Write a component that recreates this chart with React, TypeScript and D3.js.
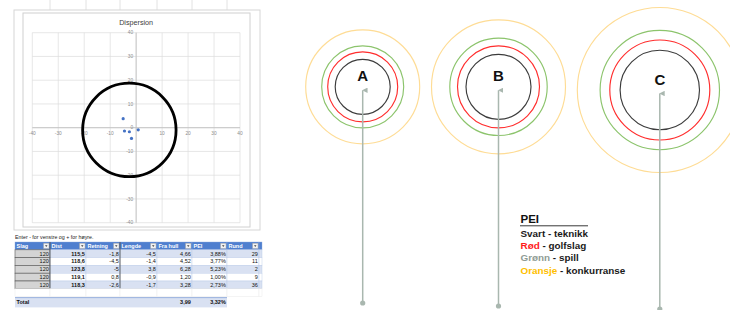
import React, { useEffect, useRef } from 'react';
import * as d3 from 'd3';

// shot table (Retning = x, Lengde = y)
const slag = [120, 120, 120, 120, 120];
const dist = [115.5, 118.6, 123.8, 119.1, 118.3];
const retning = [-1.8, -4.5, -5, 0.8, -2.6];
const lengde = [-4.5, -1.4, 3.8, -0.9, -1.7];
const fraHull = [4.66, 4.52, 6.28, 1.2, 3.28];
const pei = [3.88, 3.77, 5.23, 1.0, 2.73];
const rund = [29, 11, 2, 9, 36];
const totalFraHull = 3.99;
const totalPei = 3.32;
const headers = ['Slag', 'Dist', 'Retning', 'Lengde', 'Fra hull', 'PEI', 'Rund', ''];
const axisTicks = [-40, -30, -20, -10, 0, 10, 20, 30, 40];
const dispersionRadius = 18;

// PEI targets
const targetNames = ['A', 'B', 'C'];
const ringSvart = [27.5, 32.5, 39.7];
const ringRod = [35, 41, 50];
const ringGronn = [41, 48.7, 59.7];
const ringOransje = [57, 67, 82.5];
const legendWords = ['Svart', 'Rød', 'Grønn', 'Oransje'];
const legendRest = [' - teknikk', ' - golfslag', ' - spill', ' - konkurranse'];

const W = 730;
const H = 310;
const ringColors = ['#3c3c3c', '#ff2d2d', '#8cc46c', '#fedc95'];
const legendColors = ['#1a1a1a', '#ff1a1a', '#8f9c95', '#ffc000'];
const font = '"Liberation Sans", Arial, sans-serif';

const fmt = (v: number) => String(v).replace('.', ',');
const fmt2 = (v: number) => v.toFixed(2).replace('.', ',');

const App = () => {
    const svgRef = useRef<SVGSVGElement>(null);

    useEffect(() => {
        const svg = d3.select(svgRef.current);
        svg.selectAll('*').remove();

        // ---------- left: excel scatter ----------
        const left = svg.append('g');
        const colEdges = [15, 50, 86, 120, 157, 192, 227, 259, 262];

        // sheet gridlines
        left.append('g')
            .selectAll('line')
            .data(colEdges.slice(1, 7))
            .join('line')
            .attr('x1', d => d).attr('x2', d => d)
            .attr('y1', 0).attr('y2', 12)
            .attr('stroke', '#e2e2e2');

        left.append('rect')
            .attr('x', 14).attr('y', 10).attr('width', 246).attr('height', 220)
            .attr('fill', '#fff').attr('stroke', '#d6d6d6');
        left.append('rect')
            .attr('x', 23).attr('y', 13).attr('width', 227).attr('height', 214)
            .attr('fill', '#fff').attr('stroke', '#d0d0d0');

        const x = d3.scaleLinear().domain([-40, 40]).range([32.3, 240]);
        const y = d3.scaleLinear().domain([-40, 40]).range([222.7, 32.7]);

        left.append('text')
            .attr('x', x(0)).attr('y', 24.5)
            .attr('text-anchor', 'middle')
            .attr('font-family', font).attr('font-size', 7.2)
            .attr('fill', '#404040')
            .text('Dispersion');

        const grid = left.append('g').attr('stroke', '#dcdcdc').attr('stroke-width', 0.7);
        grid.selectAll('line.v')
            .data(axisTicks)
            .join('line')
            .attr('class', 'v')
            .attr('x1', d => x(d)).attr('x2', d => x(d))
            .attr('y1', y(40)).attr('y2', y(-40));
        grid.selectAll('line.h')
            .data(axisTicks)
            .join('line')
            .attr('class', 'h')
            .attr('y1', d => y(d)).attr('y2', d => y(d))
            .attr('x1', x(-40)).attr('x2', x(40));

        left.append('line')
            .attr('x1', x(0)).attr('x2', x(0)).attr('y1', y(40)).attr('y2', y(-40))
            .attr('stroke', '#bdbdbd').attr('stroke-width', 0.8);
        left.append('line')
            .attr('y1', y(0)).attr('y2', y(0)).attr('x1', x(-40)).attr('x2', x(40))
            .attr('stroke', '#bdbdbd').attr('stroke-width', 0.8);

        left.append('g')
            .selectAll('text')
            .data(axisTicks.filter(d => d !== 0))
            .join('text')
            .attr('x', d => x(d)).attr('y', y(0) + 7.5)
            .attr('text-anchor', 'middle')
            .attr('font-family', font).attr('font-size', 4.8)
            .attr('fill', '#8c8c8c')
            .text(d => d);
        left.append('g')
            .selectAll('text')
            .data(axisTicks)
            .join('text')
            .attr('x', x(0) - 3).attr('y', d => y(d) + 1.7)
            .attr('text-anchor', 'end')
            .attr('font-family', font).attr('font-size', 4.8)
            .attr('fill', '#8c8c8c')
            .text(d => d);

        const cx = d3.mean(retning) as number;
        const cy = d3.mean(lengde) as number;
        left.append('circle')
            .attr('cx', x(cx)).attr('cy', y(cy))
            .attr('r', x(dispersionRadius) - x(0))
            .attr('fill', 'none').attr('stroke', '#000').attr('stroke-width', 2.8);

        left.append('g')
            .selectAll('circle')
            .data(d3.range(retning.length))
            .join('circle')
            .attr('cx', i => x(retning[i]))
            .attr('cy', i => y(lengde[i]))
            .attr('r', 1.6)
            .attr('fill', '#4472c4');

        // ---------- table ----------
        left.append('text')
            .attr('x', 15).attr('y', 238.5)
            .attr('font-family', font).attr('font-size', 5.3)
            .attr('fill', '#222')
            .text('Enter - for venstre og + for høyre.');

        const rowTop = 242;
        const rowH = 7.8;
        const tbl = left.append('g').attr('font-family', font).attr('font-size', 5.5);

        // header
        headers.forEach((h, c) => {
            const x0 = colEdges[c];
            const x1 = colEdges[c + 1];
            tbl.append('rect')
                .attr('x', x0).attr('y', rowTop).attr('width', x1 - x0).attr('height', rowH)
                .attr('fill', '#4f7fcf').attr('stroke', '#8eaadb').attr('stroke-width', 0.4);
            if (h) {
                tbl.append('text')
                    .attr('x', x0 + 1.5).attr('y', rowTop + 5.6)
                    .attr('fill', '#fff').attr('font-weight', 'bold')
                    .text(h);
                tbl.append('rect')
                    .attr('x', x1 - 6.5).attr('y', rowTop + 1.2).attr('width', 5.5).attr('height', 5.4)
                    .attr('fill', '#f2f2f2').attr('stroke', '#9a9a9a').attr('stroke-width', 0.4);
                tbl.append('path')
                    .attr('d', `M${x1 - 5},${rowTop + 3.3}l2.5,0l-1.25,1.6z`)
                    .attr('fill', '#444');
            }
        });

        const rows = d3.range(slag.length).map(i => [
            String(slag[i]), fmt(dist[i]), fmt(retning[i]), fmt(lengde[i]),
            fmt2(fraHull[i]), fmt2(pei[i]) + '%', String(rund[i]), ''
        ]);
        rows.forEach((cells, r) => {
            const yTop = rowTop + rowH * (r + 1);
            cells.forEach((txt, c) => {
                const x0 = colEdges[c];
                const x1 = colEdges[c + 1];
                const fill = c === 0 ? '#d4d4d4' : r % 2 === 0 ? '#d9e1f2' : '#ffffff';
                tbl.append('rect')
                    .attr('x', x0).attr('y', yTop).attr('width', x1 - x0).attr('height', rowH)
                    .attr('fill', fill)
                    .attr('stroke', c === 0 ? '#555' : '#b4c6e7')
                    .attr('stroke-width', c === 0 ? 0.6 : 0.4);
                tbl.append('text')
                    .attr('x', x1 - 1.2).attr('y', yTop + 5.7)
                    .attr('text-anchor', 'end')
                    .attr('fill', '#111')
                    .attr('font-weight', c === 1 ? 'bold' : 'normal')
                    .text(txt);
            });
        });
        // darker column borders
        [colEdges[1], colEdges[3]].forEach(xe => {
            tbl.append('line')
                .attr('x1', xe).attr('x2', xe)
                .attr('y1', rowTop).attr('y2', rowTop + rowH * 6)
                .attr('stroke', '#444').attr('stroke-width', 0.8);
        });

        // blank row + total
        const blankTop = rowTop + rowH * 6;
        colEdges.slice(0, 8).forEach((x0, c) => {
            tbl.append('rect')
                .attr('x', x0).attr('y', blankTop).attr('width', colEdges[c + 1] - x0).attr('height', rowH)
                .attr('fill', '#fff').attr('stroke', '#e4e4e4').attr('stroke-width', 0.4);
        });
        const totTop = blankTop + rowH + 1;
        tbl.append('rect')
            .attr('x', colEdges[0]).attr('y', totTop)
            .attr('width', colEdges[6] - colEdges[0]).attr('height', rowH + 2)
            .attr('fill', '#d9e1f2');
        tbl.append('line')
            .attr('x1', colEdges[0]).attr('x2', colEdges[6])
            .attr('y1', totTop).attr('y2', totTop)
            .attr('stroke', '#4472c4').attr('stroke-width', 0.5);
        tbl.append('text')
            .attr('x', colEdges[0] + 1.5).attr('y', totTop + 6)
            .attr('font-weight', 'bold').attr('fill', '#111')
            .text('Total');
        tbl.append('text')
            .attr('x', colEdges[5] - 1.2).attr('y', totTop + 6)
            .attr('text-anchor', 'end').attr('font-weight', 'bold').attr('fill', '#111')
            .text(fmt2(totalFraHull));
        tbl.append('text')
            .attr('x', colEdges[6] - 1.2).attr('y', totTop + 6)
            .attr('text-anchor', 'end').attr('font-weight', 'bold').attr('fill', '#111')
            .text(fmt2(totalPei) + '%');

        // ---------- right: PEI targets ----------
        const right = svg.append('g');
        const r = d3.scaleLinear().domain([0, 1]).range([0, 1]);
        const startX = 305.7;
        const gap = 11.8;
        const centerY = [86.8, 86.8, 90];
        const bottomY = [303, 306, 309];

        let acc = startX;
        const targets = targetNames.map((name, i) => {
            const rings = [ringSvart[i], ringRod[i], ringGronn[i], ringOransje[i]];
            const outer = r(ringOransje[i]);
            const tx = acc + outer;
            acc += outer * 2 + gap;
            return { name, rings, tx, ty: centerY[i], by: bottomY[i] };
        });

        svg.append('defs').append('marker')
            .attr('id', 'arrowHead')
            .attr('viewBox', '0 0 10 10')
            .attr('refX', 5).attr('refY', 1)
            .attr('markerWidth', 3.6).attr('markerHeight', 3.6)
            .attr('orient', 'auto-start-reverse')
            .append('path')
            .attr('d', 'M0,10L5,0L10,10z')
            .attr('fill', '#a9b7af');

        const tg = right.selectAll('g.target')
            .data(targets)
            .join('g')
            .attr('class', 'target');

        tg.selectAll('circle.ring')
            .data(d => d.rings.map((rv, k) => ({ rv, k, tx: d.tx, ty: d.ty })))
            .join('circle')
            .attr('class', 'ring')
            .attr('cx', d => d.tx).attr('cy', d => d.ty)
            .attr('r', d => r(d.rv))
            .attr('fill', 'none')
            .attr('stroke', d => ringColors[d.k])
            .attr('stroke-width', 1.15);

        tg.append('text')
            .attr('x', d => d.tx).attr('y', d => d.ty - 5.5)
            .attr('text-anchor', 'middle')
            .attr('font-family', font).attr('font-weight', 'bold').attr('font-size', 15)
            .attr('fill', '#111')
            .text(d => d.name);

        tg.append('line')
            .attr('x1', d => d.tx).attr('x2', d => d.tx)
            .attr('y1', d => d.by).attr('y2', d => d.ty + 3.5)
            .attr('stroke', '#a9b7af').attr('stroke-width', 1.5)
            .attr('marker-end', 'url(#arrowHead)');
        tg.append('circle')
            .attr('cx', d => d.tx).attr('cy', d => d.by)
            .attr('r', 2.6)
            .attr('fill', '#a9b7af');

        // legend
        const lg = right.append('g').attr('font-family', font).attr('font-weight', 'bold');
        lg.append('text')
            .attr('x', 520.5).attr('y', 223)
            .attr('font-size', 11.5).attr('fill', '#111')
            .text('PEI');
        lg.append('line')
            .attr('x1', 520).attr('x2', 588)
            .attr('y1', 225.8).attr('y2', 225.8)
            .attr('stroke', '#222').attr('stroke-width', 0.9);
        legendWords.forEach((w, i) => {
            const t = lg.append('text')
                .attr('x', 520.5).attr('y', 237 + i * 12.2)
                .attr('font-size', 9.9);
            t.append('tspan').attr('fill', legendColors[i]).text(w);
            t.append('tspan').attr('fill', '#1a1a1a').text(legendRest[i]);
        });
    }, []);

    return (
        <svg
            ref={svgRef}
            width={W}
            height={H}
            style={{ position: 'absolute', left: 0, top: 0, background: '#fff' }}
        />
    );
};

export default App;
